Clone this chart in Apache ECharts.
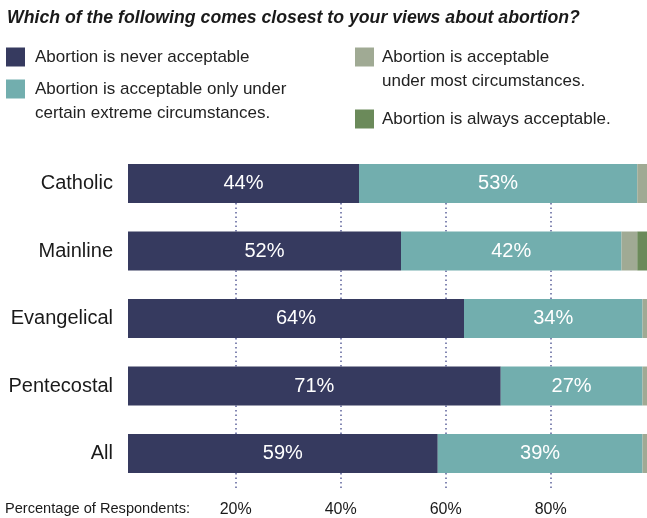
<!DOCTYPE html>
<html>
<head>
<meta charset="utf-8">
<script src="https://cdn.jsdelivr.net/npm/echarts@6/dist/echarts.min.js"></script>
<style>
  html, body { margin: 0; padding: 0; background: #fff; }
  #chart { width: 647px; height: 518px; }
</style>
</head>
<body>
<div id="chart"></div>
<script>
// Survey groups, top to bottom
const groups = ['Catholic', 'Mainline', 'Evangelical', 'Pentecostal', 'All'];

// Share of respondents (%) per answer
const neverAcceptable   = [44, 52, 64, 71, 59];
const extremeOnly       = [53, 42, 34, 27, 39];
const mostCircumstances = [2, 3, 1, 1, 1];
const alwaysAcceptable  = [1, 3, 1, 1, 1];

// Answer wording
const answerNames = [
  'Abortion is never acceptable',
  'Abortion is acceptable only under certain extreme circumstances.',
  'Abortion is acceptable under most circumstances.',
  'Abortion is always acceptable.'
];

// Reference lines on the percentage scale
const guideTicks = [20, 40, 60, 80];

const FONT = '"Liberation Sans", Arial, sans-serif';
const colors = ['#363a5f', '#72aeae', '#a0aa94', '#6b8a5a'];

// Horizontal scale: pixels per percentage point. The 100% end lies just
// past the right edge, so each axis max is the share that fits the canvas.
const PX_PER_PCT = 5.25;
const BAR_LEFT = 128;
const GUIDE_LEFT = 130.7;
const W = 647;

const chart = echarts.init(document.getElementById('chart'), null, { renderer: 'canvas' });

function legendAt(idx, left, top, text, gap) {
  return {
    data: [answerNames[idx]],
    left: left,
    top: top,
    padding: 0,
    icon: 'rect',
    itemWidth: 19,
    itemHeight: 19,
    selectedMode: false,
    formatter: () => text,
    textStyle: {
      fontFamily: FONT,
      fontSize: 17,
      color: '#222',
      padding: [0, 0, 0, gap]
    }
  };
}

function continuationLine(text, left, centerY) {
  return {
    text: text,
    left: left,
    top: centerY - 10,
    padding: 0,
    textStyle: {
      fontFamily: FONT,
      fontSize: 17,
      lineHeight: 20,
      fontWeight: 'normal',
      color: '#222'
    }
  };
}

function barSeries(idx, values, showLabel) {
  return {
    name: answerNames[idx],
    type: 'bar',
    stack: 'total',
    xAxisIndex: 0,
    yAxisIndex: 0,
    barWidth: 39,
    z: 10,
    itemStyle: { color: colors[idx] },
    label: {
      show: showLabel,
      position: 'inside',
      formatter: '{c}%',
      color: '#fff',
      fontFamily: FONT,
      fontSize: 20
    },
    emphasis: { disabled: true },
    data: values
  };
}

chart.setOption({
  animation: false,
  color: colors,
  title: [
    {
      text: 'Which of the following comes closest to your views about abortion?',
      left: 7,
      top: 9,
      padding: 0,
      textStyle: {
        fontFamily: FONT,
        fontSize: 17.7,
        fontWeight: 'bold',
        fontStyle: 'italic',
        color: '#1a1a1a'
      }
    },
    {
      text: 'Percentage of Respondents:',
      left: 5,
      top: 501,
      padding: 0,
      textStyle: {
        fontFamily: FONT,
        fontSize: 14.6,
        fontWeight: 'normal',
        color: '#1a1a1a'
      }
    },
    continuationLine('certain extreme circumstances.', 35, 113),
    continuationLine('under most circumstances.', 382, 81)
  ],
  legend: [
    legendAt(0, 6, 47.5, 'Abortion is never acceptable', 5),
    legendAt(1, 6, 79.5, 'Abortion is acceptable only under', 5),
    legendAt(2, 355, 47.5, 'Abortion is acceptable', 3),
    legendAt(3, 355, 109.5, 'Abortion is always acceptable.', 3)
  ],
  grid: [
    // bars
    { left: BAR_LEFT, right: 0, top: 149.75, height: 337.5 },
    // dotted guides and percentage scale
    { left: GUIDE_LEFT, right: 0, top: 164, height: 324 }
  ],
  xAxis: [
    {
      gridIndex: 0, type: 'value', min: 0,
      max: (W - BAR_LEFT) / PX_PER_PCT,
      show: false
    },
    {
      gridIndex: 1, type: 'value', min: 0,
      max: (W - GUIDE_LEFT) / PX_PER_PCT,
      interval: 20,
      axisLine: { show: false },
      axisTick: { show: false },
      splitLine: { show: false },
      axisLabel: {
        showMinLabel: false,
        showMaxLabel: false,
        margin: 14,
        formatter: '{value}%',
        fontFamily: FONT,
        fontSize: 16,
        color: '#1a1a1a'
      }
    }
  ],
  yAxis: [
    {
      gridIndex: 0, type: 'category', data: groups, inverse: true,
      axisLine: { show: false },
      axisTick: { show: false },
      axisLabel: {
        margin: 15,
        fontFamily: FONT,
        fontSize: 20,
        color: '#1a1a1a'
      }
    },
    {
      gridIndex: 1, type: 'value', min: 0, max: 1, show: false
    }
  ],
  series: [
    barSeries(0, neverAcceptable, true),
    barSeries(1, extremeOnly, true),
    barSeries(2, mostCircumstances, false),
    barSeries(3, alwaysAcceptable, false),
    {
      type: 'line',
      xAxisIndex: 1,
      yAxisIndex: 1,
      data: [],
      z: 1,
      silent: true,
      markLine: {
        silent: true,
        symbol: 'none',
        label: { show: false },
        lineStyle: { color: '#5c619a', type: [1.5, 3], width: 1.5 },
        emphasis: { disabled: true },
        data: guideTicks.map(v => ({ xAxis: v }))
      }
    }
  ]
});
</script>
</body>
</html>
